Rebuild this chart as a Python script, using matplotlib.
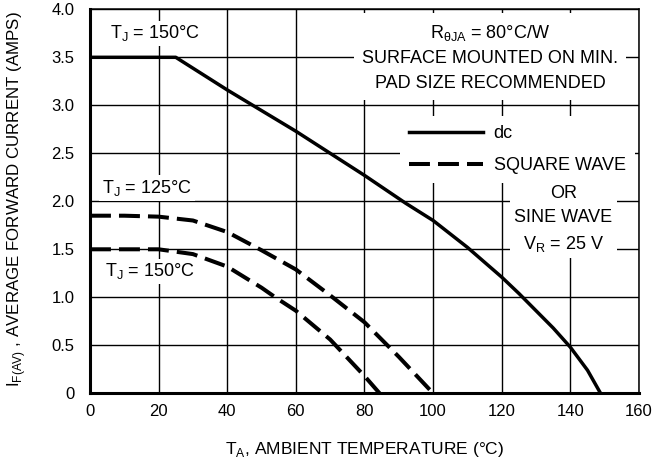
import matplotlib
matplotlib.use("Agg")
import matplotlib.pyplot as plt
from matplotlib.lines import Line2D

plt.rcParams['font.family'] = ['Liberation Sans', 'DejaVu Sans']
plt.rcParams['mathtext.fontset'] = 'custom'
plt.rcParams['mathtext.rm'] = 'Liberation Sans'

# ---- data ----
dc_temp = [0, 25, 40, 60, 80, 92, 100, 110, 120, 125, 130, 135, 140, 145, 148.8]
dc_curr = [3.5, 3.5, 3.16, 2.73, 2.27, 1.98, 1.80, 1.52, 1.21, 1.04, 0.86, 0.68, 0.48, 0.24, 0]

sq125_temp = [0, 10, 20, 30, 40, 50, 60, 70, 80, 90, 100]
sq125_curr = [1.85, 1.85, 1.84, 1.80, 1.68, 1.49, 1.29, 1.02, 0.74, 0.38, 0]

sq150_temp = [0, 10, 20, 30, 40, 50, 54, 60, 70, 80, 84.4]
sq150_curr = [1.5, 1.5, 1.5, 1.45, 1.32, 1.10, 1.0, 0.86, 0.56, 0.18, 0]

x_ticks = [0, 20, 40, 60, 80, 100, 120, 140, 160]
y_ticks = [0, 0.5, 1.0, 1.5, 2.0, 2.5, 3.0, 3.5, 4.0]
y_tick_labels = ['0', '0.5', '1.0', '1.5', '2.0', '2.5', '3.0', '3.5', '4.0']

FS = 13
FS_AX = 12.5
FS_TICK = 12

fig = plt.figure(figsize=(6.71, 4.70), dpi=100)
ax = fig.add_axes([0.1341, 0.1632, 0.8182, 0.8170])
ax.set_xlim(0, 160)
ax.set_ylim(0, 4.0)
ax.set_xticks(x_ticks)
ax.set_xticklabels([str(v) for v in x_ticks])
ax.set_yticks(y_ticks)
ax.set_yticklabels(y_tick_labels)
ax.tick_params(axis='both', length=0, labelsize=FS_TICK)
ax.tick_params(axis='x', pad=8)
ax.tick_params(axis='y', pad=11)
ax.grid(True, color='black', linewidth=1.0, zorder=1)
ax.set_axisbelow(True)

for side in ['left', 'bottom']:
    ax.spines[side].set_linewidth(2.2)
for side in ['top', 'right']:
    ax.spines[side].set_linewidth(1.1)

lw_s = 2.5
lw_d = 2.9
dash = (5.2, 2.0)
ax.plot(dc_temp, dc_curr, color='black', linewidth=lw_s, solid_capstyle='butt',
        solid_joinstyle='round', zorder=5)
ax.plot(sq125_temp, sq125_curr, color='black', linewidth=lw_d, dashes=dash,
        dash_capstyle='butt', zorder=5)
ax.plot(sq150_temp, sq150_curr, color='black', linewidth=lw_d, dashes=dash,
        dash_capstyle='butt', zorder=5)

box = dict(facecolor='white', edgecolor='none', pad=2)

ax.text(18.9, 3.75, r'T$_\mathregular{J}$ = 150°C', fontsize=FS, ha='center', va='center', bbox=box, zorder=4)
ax.text(16.6, 2.14, r'T$_\mathregular{J}$ = 125°C', fontsize=FS, ha='center', va='center', bbox=box, zorder=4)
ax.text(17.5, 1.27, r'T$_\mathregular{J}$ = 150°C', fontsize=FS, ha='center', va='center', bbox=box, zorder=4)

ax.text(116.6, 3.50,
        'R$_\\mathregular{θJA}$ = 80°C/W\nSURFACE MOUNTED ON MIN.\nPAD SIZE RECOMMENDED',
        fontsize=FS, ha='center', va='center', linespacing=1.6,
        bbox=dict(facecolor='white', edgecolor='none', pad=6), zorder=4)

handles = [Line2D([], [], color='black', linewidth=lw_s),
           Line2D([], [], color='black', linewidth=lw_d, dashes=dash, dash_capstyle='butt')]
leg = ax.legend(handles, ['dc', 'SQUARE WAVE'], loc='upper left',
                bbox_to_anchor=(0.564, 0.722), frameon=True, fontsize=FS,
                handlelength=4.1, handletextpad=0.6, labelspacing=0.85,
                borderpad=0.5, borderaxespad=0)
leg.get_frame().set_facecolor('white')
leg.get_frame().set_edgecolor('none')
leg.get_frame().set_alpha(1)
leg.set_zorder(4)

ax.text(138.0, 1.81, 'OR\nSINE WAVE\nV$_\\mathregular{R}$ = 25 V',
        fontsize=FS, ha='center', va='center', linespacing=1.55,
        bbox=dict(facecolor='white', edgecolor='none', pad=3), zorder=4)

ax.set_xlabel(r'T$_\mathregular{A}$, AMBIENT TEMPERATURE (°C)', fontsize=FS_AX, labelpad=15)
ax.set_ylabel(r'I$_\mathregular{F(AV)}$ , AVERAGE FORWARD CURRENT (AMPS)', fontsize=12.2)
ax.yaxis.set_label_coords(-0.112, 0.505)

fig.savefig('out.png', dpi=100)
